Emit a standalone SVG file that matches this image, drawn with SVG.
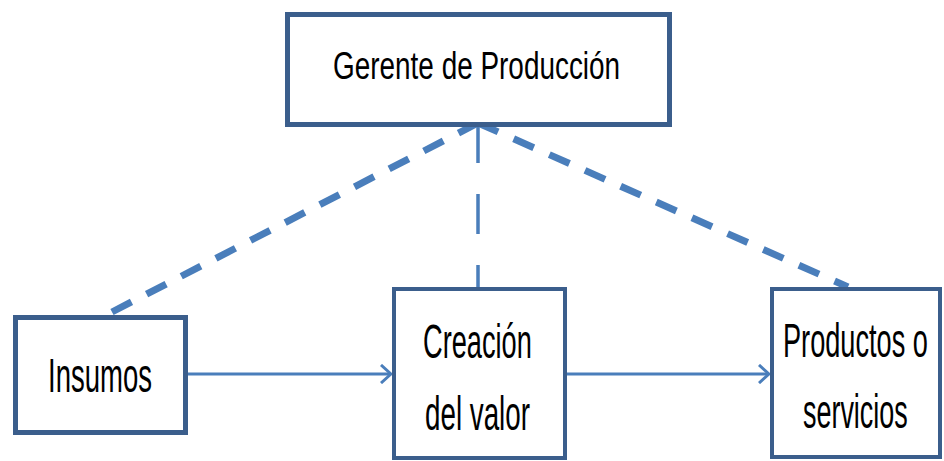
<svg xmlns="http://www.w3.org/2000/svg" width="944" height="461" viewBox="0 0 944 461">
<defs>
<style>
.box{fill:#fff;stroke:#3B5E8C;}
.lbl{font-family:"Liberation Sans","DejaVu Sans",sans-serif;fill:#000;}
.arrow{stroke:#4A7EBB;stroke-width:3;fill:none;}
.dash{stroke:#4A7EBB;stroke-width:7;fill:none;stroke-dasharray:22 17;}
.vdash{stroke:#4A7EBB;stroke-width:3.5;fill:none;stroke-dasharray:40 31;}
</style>
<marker id="open" viewBox="0 0 12 20" refX="11" refY="10" markerWidth="12" markerHeight="20" markerUnits="userSpaceOnUse" orient="auto">
<path d="M1,1 L11,10 L1,19" fill="none" stroke="#4A7EBB" stroke-width="3"/>
</marker>
</defs>
<rect width="944" height="461" fill="#fff"/>
<g id="connectors">
<line class="dash" x1="478" y1="123" x2="112" y2="312"/>
<line class="dash" x1="478" y1="123" x2="848" y2="287"/>
<line class="vdash" x1="478" y1="123" x2="478" y2="287"/>
<line class="arrow" x1="188" y1="374" x2="391" y2="374" marker-end="url(#open)"/>
<line class="arrow" x1="567" y1="374" x2="769" y2="374" marker-end="url(#open)"/>
</g>
<g id="gerente">
<rect class="box" x="287.5" y="14.5" width="382" height="110" stroke-width="5"/>
<text class="lbl" transform="translate(333,79) scale(0.716,1)" font-size="39" textLength="401" lengthAdjust="spacingAndGlyphs">Gerente de Producción</text>
</g>
<g id="insumos">
<rect class="box" x="15.5" y="317.5" width="170" height="115" stroke-width="5"/>
<text class="lbl" transform="translate(48,392) scale(0.575,1)" font-size="48" textLength="181" lengthAdjust="spacingAndGlyphs">Insumos</text>
</g>
<g id="creacion">
<rect class="box" x="394" y="289" width="171" height="169" stroke-width="4"/>
<text class="lbl" transform="translate(423,358) scale(0.57,1)" font-size="48" textLength="191" lengthAdjust="spacingAndGlyphs">Creación</text>
<text class="lbl" transform="translate(425,430) scale(0.58,1)" font-size="48" textLength="181" lengthAdjust="spacingAndGlyphs">del valor</text>
</g>
<g id="productos">
<rect class="box" x="772" y="289" width="168" height="168" stroke-width="4"/>
<text class="lbl" transform="translate(783,357) scale(0.566,1)" font-size="48" textLength="256" lengthAdjust="spacingAndGlyphs">Productos o</text>
<text class="lbl" transform="translate(803,428) scale(0.56,1)" font-size="48" textLength="187" lengthAdjust="spacingAndGlyphs">servicios</text>
</g>
</svg>
